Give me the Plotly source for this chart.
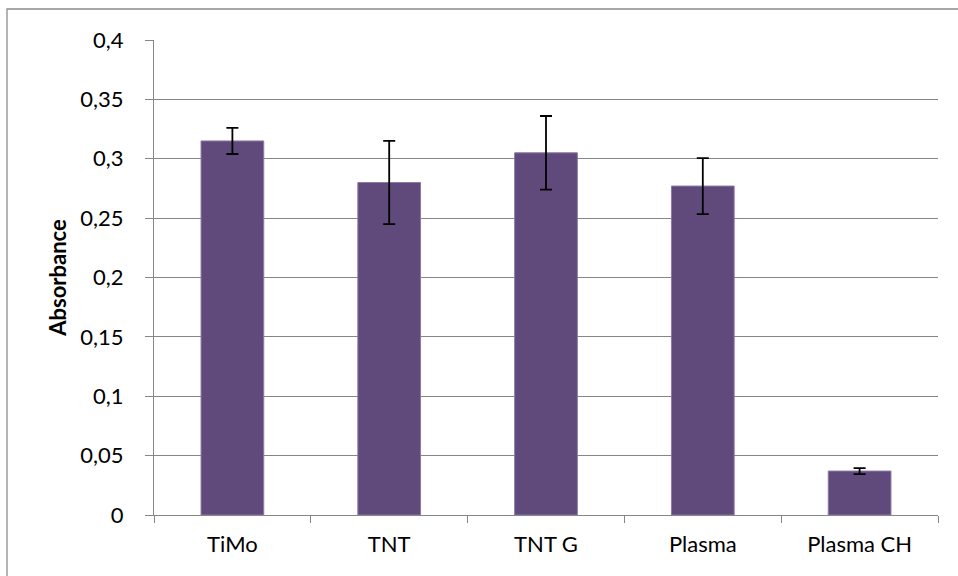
import plotly.graph_objects as go

categories = ["TiMo", "TNT", "TNT G", "Plasma", "Plasma CH"]
absorbance = [0.315, 0.280, 0.305, 0.277, 0.037]
errors = [0.011, 0.035, 0.031, 0.0236, 0.0025]
y_ticks = [0, 0.05, 0.1, 0.15, 0.2, 0.25, 0.3, 0.35, 0.4]
y_title = "Absorbance"

FONT = "Lato, Carlito, 'Open Sans', sans-serif"
FS = 22

fig = go.Figure()
fig.add_trace(go.Bar(
    x=categories, y=absorbance,
    marker=dict(color="#604A7B", line=dict(color="#8C7AA6", width=1)),
    error_y=dict(type="data", array=errors, visible=True, color="#000000",
                 thickness=1.8, width=6),
    width=0.4,
))

fig.update_layout(
    width=958, height=576,
    margin=dict(l=154, r=20, t=40, b=61),
    paper_bgcolor="white", plot_bgcolor="white",
    separators=", ",
    showlegend=False,
    font=dict(family=FONT, size=FS, color="#000000"),
    shapes=[dict(type="rect", xref="paper", yref="paper",
                 x0=-0.1875, x1=1.05, y0=-0.3, y1=1.0653,
                 line=dict(color="#8C8C8C", width=1.3), layer="below")],
)
fig.update_xaxes(
    type="category", showgrid=False, showline=True, linecolor="#868686", linewidth=1.3,
    ticks="outside", tickson="boundaries", ticklen=7, tickcolor="#868686", tickwidth=1.3,
    tickfont=dict(size=FS), range=[-0.5, 4.5], ticklabelstandoff=9,
)
fig.update_yaxes(
    range=[0, 0.4], tickvals=y_ticks, showgrid=True, gridcolor="#868686", gridwidth=1.3,
    showline=True, linecolor="#868686", linewidth=1.3,
    ticks="outside", ticklen=8, tickcolor="#868686", tickwidth=1.3,
    tickfont=dict(size=FS), zeroline=False, ticklabelstandoff=17,
    title=dict(text="<b>" + y_title + "</b>", font=dict(size=FS), standoff=7),
)

fig.write_html("out.html", config={"displayModeBar": False},
               post_script="document.body.style.margin='0';document.body.style.overflow='hidden';")
